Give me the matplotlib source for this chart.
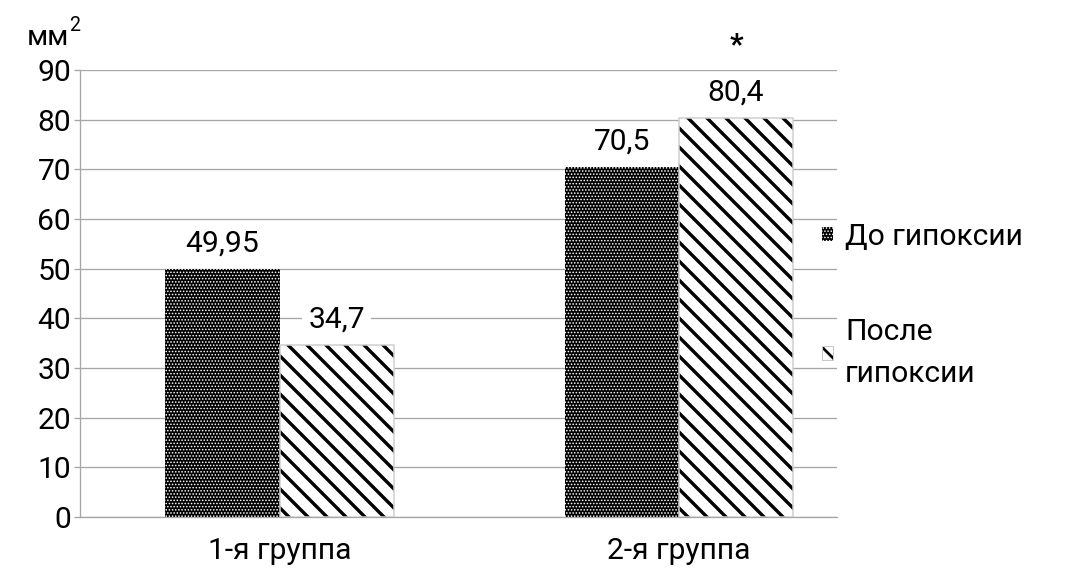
import matplotlib
matplotlib.use("Agg")
import matplotlib.pyplot as plt
import numpy as np

# ---- data ----
categories = ["1-я группа", "2-я группа"]
series_names = ["До гипоксии", "После\nгипоксии"]
before = [49.95, 70.5]
after = [34.7, 80.4]
before_labels = ["49,95", "70,5"]
after_labels = ["34,7", "80,4"]
yticks = [0, 10, 20, 30, 40, 50, 60, 70, 80, 90]

DPI = 114
W, H = 1072, 576
PT = 72.0 / DPI  # points per pixel

FONT = ["Roboto", "DejaVu Sans"]
plt.rcParams["font.family"] = FONT
FS = 30 * PT  # font size in points (~30 px em)

GRID = "#a6a6a6"
DIAG_LW = 3.4 * PT
DOT_LW = 1.0 * PT

fig = plt.figure(figsize=(W / DPI, H / DPI), dpi=DPI)
ax = fig.add_axes([80 / W, 1 - 517 / H, (837 - 80) / W, (517 - 70) / H])

x = np.arange(len(categories))
bw = 0.286

with plt.rc_context({"hatch.linewidth": DOT_LW}):
    b1 = ax.bar(x - bw / 2, before, bw, color="black", edgecolor="white",
                hatch="......", linewidth=0, zorder=3, label=series_names[0])
with plt.rc_context({"hatch.linewidth": DIAG_LW}):
    b2 = ax.bar(x + bw / 2, after, bw, color="white", edgecolor="black",
                hatch="\\\\", linewidth=0, zorder=3, label=series_names[1])
ax.bar(x + bw / 2, after, bw, fill=False, edgecolor="#cfcfcf",
       linewidth=1.5 * PT, zorder=4)

ax.set_xlim(-0.5, 1.396)
ax.set_ylim(0, 90)
ax.set_yticks(yticks)
ax.set_yticklabels([str(t) for t in yticks], fontsize=FS)
ax.set_xticks(x)
ax.set_xticklabels(categories, fontsize=FS)
ax.tick_params(axis="y", length=6 * PT, width=1.3 * PT, color=GRID, pad=3 * PT)
ax.tick_params(axis="x", length=0, pad=20 * PT)

ax.grid(axis="y", color=GRID, linewidth=1.3 * PT, zorder=0)
ax.set_axisbelow(True)
for s in ["top", "right"]:
    ax.spines[s].set_visible(False)
for s in ["left", "bottom"]:
    ax.spines[s].set_color(GRID)
    ax.spines[s].set_linewidth(1.3 * PT)

for xs, vals, labs in [(x - bw / 2, before, before_labels),
                       (x + bw / 2, after, after_labels)]:
    for xi, v, lab in zip(xs, vals, labs):
        ax.annotate(lab, (xi, v), xytext=(0, 25 * PT), textcoords="offset points",
                    ha="center", va="center", fontsize=FS, zorder=5,
                    bbox=dict(facecolor="white", edgecolor="none", pad=6 * PT))

# significance asterisk
ax.text(x[1] + bw / 2, 95, "*", ha="center", va="center", fontsize=FS,
        fontweight="bold", clip_on=False)

# unit label
fig.text(27 / W, 1 - 45 / H, "мм", ha="left", va="baseline", fontsize=FS * 0.95)
fig.text(69 / W, 1 - 31 / H, "2", ha="left", va="baseline", fontsize=FS * 0.65)

leg = fig.legend(handles=[b1, b2], labels=series_names, loc="upper left",
                 bbox_to_anchor=(822 / W, 1 - 223 / H), frameon=False,
                 fontsize=FS, handlelength=0.35, handleheight=0.35,
                 handletextpad=0.42, labelspacing=2.25, borderpad=0,
                 borderaxespad=0)
for t in leg.get_texts():
    t.set_linespacing(1.6)
lh = leg.legend_handles
for h, lw in zip(lh, [DOT_LW, DIAG_LW * 0.8]):
    if hasattr(h, "set_hatch_linewidth"):
        h.set_hatch_linewidth(lw)
    else:
        h._hatch_linewidth = lw
lh[1].set_edgecolor("#c8c8c8")
lh[1].set_linewidth(1.0 * PT)
lh[1]._hatch_color = (0, 0, 0, 1)

fig.savefig("out.png", dpi=DPI, facecolor="white")
